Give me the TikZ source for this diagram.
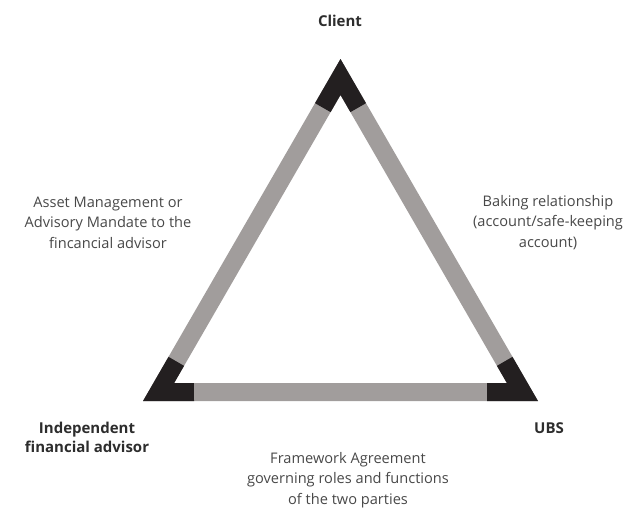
\documentclass[tikz,border=0pt]{standalone}
\usepackage{fontspec}
\setmainfont{Open Sans}
\usetikzlibrary{calc}
\definecolor{darkc}{RGB}{35,31,32}
\definecolor{grayband}{RGB}{161,157,156}
\definecolor{txt}{RGB}{72,72,72}
\definecolor{btxt}{RGB}{45,45,45}
\tikzset{
  lbl/.style={align=center, text=txt, font=\fontsize{14.6}{20.5}\selectfont, inner sep=0pt},
  blbl/.style={align=center, text=btxt, font=\fontsize{15}{19.5}\selectfont\bfseries, inner sep=0pt},
}
\begin{document}
\begin{tikzpicture}[x=1pt,y=-1pt]
\useasboundingbox (0,0) rectangle (624,509);
% outer triangle
\coordinate (A) at (340.5,59);
\coordinate (B) at (143,401);
\coordinate (C) at (538,401);
\coordinate (G) at (340.5,286.97);
% inner triangle
\coordinate (Ai) at ($(G)!0.8422!(A)$);
\coordinate (Bi) at ($(G)!0.8422!(B)$);
\coordinate (Ci) at ($(G)!0.8422!(C)$);
% band
\fill[grayband, even odd rule] (A) -- (B) -- (C) -- cycle (Ai) -- (Bi) -- (Ci) -- cycle;
% dark corners
\fill[darkc] (A) -- ($(A)!51pt!(B)$) -- ($(Ai)!19.8pt!(Bi)$) -- (Ai) -- ($(Ai)!19.8pt!(Ci)$) -- ($(A)!51pt!(C)$) -- cycle;
\fill[darkc] (B) -- ($(B)!51pt!(A)$) -- ($(Bi)!19.8pt!(Ai)$) -- (Bi) -- ($(Bi)!19.8pt!(Ci)$) -- ($(B)!51pt!(C)$) -- cycle;
\fill[darkc] (C) -- ($(C)!51pt!(A)$) -- ($(Ci)!19.8pt!(Ai)$) -- (Ci) -- ($(Ci)!19.8pt!(Bi)$) -- ($(C)!51pt!(B)$) -- cycle;
% labels
\node[blbl] (client) at (340,21) {Client};
\node[blbl] (ifa) at (87,437.5) {Independent\\financial advisor};
\node[blbl] (ubs) at (549,428) {UBS};
\node[lbl] (mandate) at (108,222.5) {Asset Management or\\Advisory Mandate to the\\fincancial advisor};
\node[lbl] (banking) at (548,222.5) {Baking relationship\\(account/safe-keeping\\account)};
\node[lbl] (framework) at (348,480) {Framework Agreement\\governing roles and functions\\of the two parties};
\end{tikzpicture}
\end{document}
